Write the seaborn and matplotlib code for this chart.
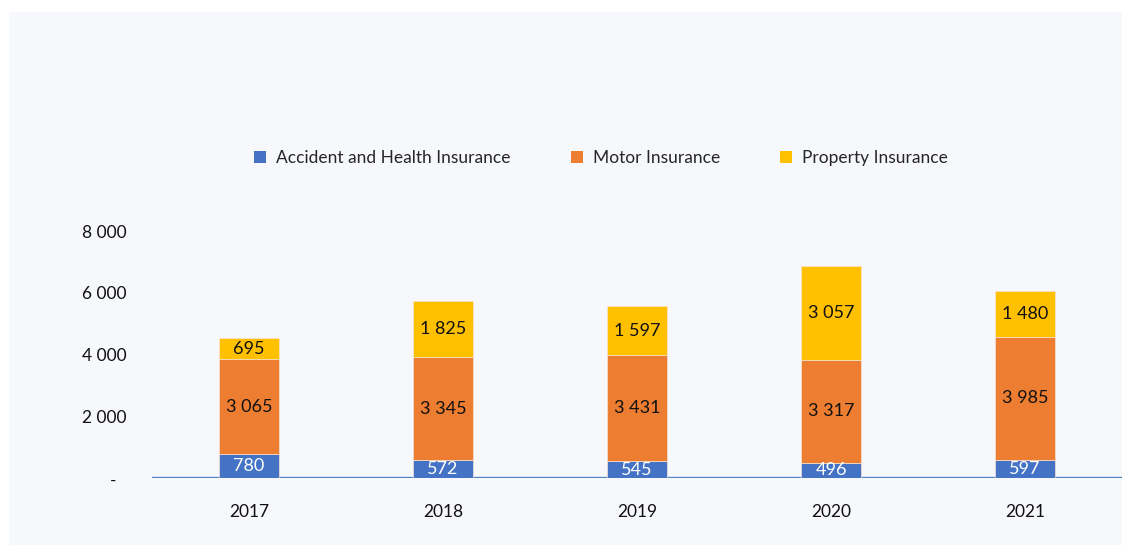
import matplotlib
matplotlib.use("Agg")
import matplotlib.pyplot as plt
import matplotlib.transforms as mtransforms
from matplotlib.patches import Patch, Rectangle
import seaborn as sns
import pandas as pd
import numpy as np

years = ["2017", "2018", "2019", "2020", "2021"]
accident = [780, 572, 545, 496, 597]
motor = [3065, 3345, 3431, 3317, 3985]
property_ins = [695, 1825, 1597, 3057, 1480]
series_names = ["Accident and Health Insurance", "Motor Insurance", "Property Insurance"]
y_ticks = [0, 2000, 4000, 6000, 8000]

colors = ["#4472c4", "#ed7d31", "#ffc000"]
panel_color = "#f7f8fc"

sns.set_theme(style="white")
plt.rcParams["font.family"] = ["Lato", "DejaVu Sans"]

df = pd.DataFrame({"year": years, "accident": accident,
                   "motor": motor, "property": property_ins})

fig = plt.figure(figsize=(11.22, 5.45), dpi=100, facecolor="white")
fig.patches.append(Rectangle((9 / 1122, 0), 1 - 9 / 1122, 1 - 12 / 545,
                             transform=fig.transFigure, facecolor=panel_color,
                             edgecolor="none", zorder=-10))

ax = fig.add_axes([152 / 1122, 67 / 545, 1 - 152 / 1122, (478 - 231) / 545])
ax.set_facecolor("none")
ax.set_zorder(2)

layers = [("accident", np.zeros(len(years))),
          ("motor", np.array(accident, dtype=float)),
          ("property", np.array(accident, dtype=float) + np.array(motor))]
for (col, bottom), c in zip(layers, colors):
    sns.barplot(data=df, x="year", y=col, bottom=bottom, color=c, width=0.31,
                saturation=1, edgecolor="#f6e3d6", linewidth=0.5, zorder=3, ax=ax)

ax.axhline(0, color="#4f86c0", lw=1.7, zorder=2)

# segment value labels
def fmt(v):
    return f"{v:,}".replace(",", " ")

for i in range(len(years)):
    b = 0
    for vals, txtc in [(accident, "white"), (motor, "#111111"), (property_ins, "#111111")]:
        v = vals[i]
        ax.text(i, b + v / 2, fmt(v), ha="center", va="center",
                fontsize=13, color=txtc, zorder=5)
        b += v

ax.set_xlim(-0.5, 4.5)
ax.set_ylim(0, 8000)
ax.set_yticks(y_ticks)
ax.set_yticklabels(["-"] + [fmt(t) for t in y_ticks[1:]])
ax.tick_params(axis="y", length=0, pad=18, labelsize=12.5, labelcolor="#111111")
ax.tick_params(axis="x", length=0, pad=19, labelsize=12.5, labelcolor="#111111")
zero_lab = ax.get_yticklabels()[0]
zero_lab.set_transform(zero_lab.get_transform() +
                       mtransforms.ScaledTranslation(-7.5 / 72, -1 / 72, fig.dpi_scale_trans))
ax.set_xlabel("")
ax.set_ylabel("")
for s in ax.spines.values():
    s.set_visible(False)

handles = [Patch(facecolor=c, edgecolor="none") for c in colors]
fig.legend(handles, series_names, loc="center", ncol=3,
           bbox_to_anchor=(601 / 1122, 1 - 158 / 545), frameon=False,
           fontsize=12.5, handlelength=0.7, handleheight=0.7,
           handletextpad=0.57, columnspacing=3.45)

fig.savefig("out.png", dpi=100, facecolor="white")
